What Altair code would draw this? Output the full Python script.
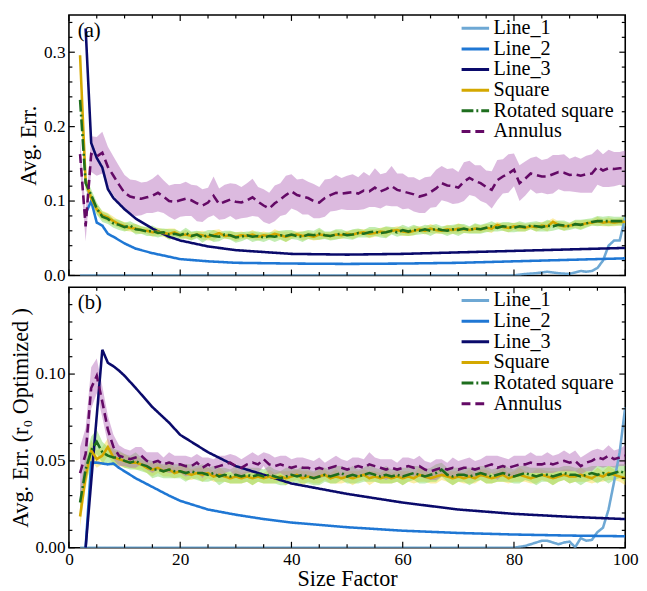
import altair as alt
import pandas as pd

SERIES = ["Line_1", "Line_2", "Line_3", "Square", "Rotated square", "Annulus"]
LINE_COLORS = ["#6ea8d4", "#1f77d4", "#0a0a6b", "#d4a800", "#1e6e1e", "#640a66"]
DASHES = [[1, 0], [1, 0], [1, 0], [1, 0], [12, 3, 2, 3], [9, 5]]
BAND_SERIES = ["Square", "Rotated square", "Annulus"]
BAND_COLORS = ["#f7d83a", "#7bd655", "#b266b8"]

X_NOISY = list(range(2, 101))

# axis tick positions
X_MAJOR = [0, 20, 40, 60, 80, 100]
X_MINOR = [5, 10, 15, 25, 30, 35, 45, 50, 55, 65, 70, 75, 85, 90, 95]
A_Y_MAJOR = [0.0, 0.1, 0.2, 0.3]
A_Y_MINOR = [0.02, 0.04, 0.06, 0.08, 0.12, 0.14, 0.16, 0.18, 0.22, 0.24, 0.26, 0.28, 0.32, 0.34]
B_Y_MAJOR = [0.0, 0.05, 0.10]
B_Y_MINOR = [0.01, 0.02, 0.03, 0.04, 0.06, 0.07, 0.08, 0.09, 0.11, 0.12, 0.13, 0.14]

# ---------------- panel (a) ----------------
A_L1_X = [2, 80, 82, 84, 86, 88, 90, 91, 92, 93, 94, 95, 96, 97, 98, 99, 100]
A_L1_Y = [0, 0, 0.002, 0.003, 0.005, 0.003, 0.002, 0.004, 0.006, 0.005, 0.006, 0.010, 0.020, 0.040, 0.047, 0.047, 0.078]
A_L2_X = [3, 4, 5, 6, 7, 8, 10, 12, 15, 20, 25, 30, 40, 50, 60, 70, 80, 90, 100]
A_L2_Y = [0.083, 0.100, 0.071, 0.067, 0.056, 0.052, 0.043, 0.036, 0.030, 0.022, 0.019, 0.017, 0.016, 0.0155, 0.016, 0.017, 0.019, 0.021, 0.023]
A_L3_X = [3, 4, 5, 6, 7, 8, 10, 12, 15, 18, 20, 25, 30, 40, 50, 60, 70, 80, 90, 100]
A_L3_Y = [0.332, 0.178, 0.158, 0.145, 0.116, 0.104, 0.089, 0.0765, 0.063, 0.052, 0.047, 0.039, 0.034, 0.029, 0.028, 0.029, 0.031, 0.033, 0.035, 0.037]

A_SQ = [0.296, 0.126, 0.104, 0.089, 0.081, 0.078, 0.073, 0.069, 0.066,
        0.064, 0.063, 0.061, 0.060, 0.058, 0.059, 0.057, 0.056, 0.058, 0.054,
        0.055, 0.053, 0.055, 0.054, 0.052, 0.054, 0.057, 0.053, 0.054, 0.052,
        0.054, 0.053, 0.055, 0.052, 0.054, 0.053, 0.056, 0.054, 0.052, 0.054,
        0.055, 0.053, 0.054, 0.052, 0.055, 0.054, 0.053, 0.055, 0.054, 0.056,
        0.055, 0.057, 0.058, 0.056, 0.057, 0.059, 0.058, 0.060, 0.061, 0.059,
        0.058, 0.060, 0.062, 0.060, 0.063, 0.061, 0.060, 0.062, 0.061, 0.063,
        0.062, 0.061, 0.063, 0.062, 0.064, 0.063, 0.068, 0.065, 0.064, 0.066,
        0.065, 0.064, 0.066, 0.065, 0.067, 0.066, 0.072, 0.068, 0.066, 0.067,
        0.069, 0.068, 0.070, 0.071, 0.073, 0.071, 0.072, 0.071, 0.072, 0.072]
A_SQ_HW = [0.012, 0.008, 0.007, 0.007, 0.006, 0.006, 0.006, 0.005, 0.006,
           0.005, 0.006, 0.005, 0.004, 0.006, 0.005, 0.005, 0.007, 0.005, 0.004,
           0.006, 0.005, 0.004, 0.006, 0.005, 0.007, 0.005, 0.004, 0.005, 0.006,
           0.005, 0.004, 0.006, 0.005, 0.005, 0.004, 0.006, 0.005, 0.007, 0.005,
           0.004, 0.006, 0.005, 0.005, 0.007, 0.004, 0.005, 0.006, 0.005, 0.004,
           0.006, 0.005, 0.004, 0.006, 0.005, 0.005, 0.007, 0.004, 0.005, 0.006,
           0.005, 0.006, 0.004, 0.005, 0.006, 0.005, 0.004, 0.006, 0.005, 0.007,
           0.005, 0.004, 0.006, 0.005, 0.005, 0.006, 0.004, 0.005, 0.006, 0.005,
           0.006, 0.005, 0.004, 0.006, 0.005, 0.007, 0.005, 0.005, 0.006, 0.004,
           0.005, 0.006, 0.005, 0.004, 0.006, 0.005, 0.006, 0.005, 0.005, 0.006]

A_RS = [0.236, 0.124, 0.108, 0.090, 0.079, 0.076, 0.070, 0.068, 0.065,
        0.067, 0.062, 0.061, 0.059, 0.060, 0.057, 0.058, 0.055, 0.056, 0.054,
        0.057, 0.053, 0.055, 0.051, 0.055, 0.053, 0.052, 0.055, 0.054, 0.051,
        0.052, 0.054, 0.052, 0.053, 0.051, 0.053, 0.052, 0.054, 0.053, 0.055,
        0.053, 0.052, 0.055, 0.054, 0.056, 0.054, 0.053, 0.055, 0.056, 0.054,
        0.055, 0.057, 0.056, 0.058, 0.059, 0.057, 0.058, 0.060, 0.058, 0.061,
        0.059, 0.061, 0.060, 0.062, 0.060, 0.063, 0.061, 0.060, 0.062, 0.061,
        0.063, 0.061, 0.063, 0.062, 0.064, 0.066, 0.064, 0.066, 0.065, 0.064,
        0.066, 0.065, 0.067, 0.066, 0.065, 0.067, 0.066, 0.068, 0.067, 0.066,
        0.069, 0.068, 0.070, 0.072, 0.073, 0.073, 0.073, 0.073, 0.073, 0.073]
A_RS_HW = [0.010, 0.009, 0.008, 0.008, 0.007, 0.007, 0.006, 0.007, 0.006,
           0.006, 0.007, 0.005, 0.006, 0.007, 0.006, 0.005, 0.007, 0.006, 0.005,
           0.007, 0.006, 0.005, 0.007, 0.006, 0.008, 0.006, 0.005, 0.006, 0.007,
           0.006, 0.005, 0.007, 0.006, 0.006, 0.005, 0.007, 0.006, 0.008, 0.006,
           0.005, 0.007, 0.006, 0.006, 0.008, 0.005, 0.006, 0.007, 0.006, 0.005,
           0.007, 0.006, 0.005, 0.007, 0.006, 0.006, 0.008, 0.005, 0.006, 0.007,
           0.006, 0.007, 0.005, 0.006, 0.007, 0.006, 0.005, 0.007, 0.006, 0.008,
           0.006, 0.005, 0.007, 0.006, 0.006, 0.007, 0.005, 0.006, 0.007, 0.006,
           0.007, 0.006, 0.005, 0.007, 0.006, 0.008, 0.006, 0.006, 0.007, 0.005,
           0.006, 0.007, 0.006, 0.005, 0.007, 0.006, 0.007, 0.006, 0.006, 0.007]

A_AN = [0.163, 0.066, 0.163, 0.160, 0.165, 0.146, 0.134, 0.122, 0.111,
        0.106, 0.104, 0.103, 0.105, 0.107, 0.111, 0.106, 0.100, 0.099, 0.101,
        0.103, 0.101, 0.097, 0.094, 0.098, 0.107, 0.096, 0.099, 0.102, 0.099,
        0.098, 0.101, 0.105, 0.099, 0.094, 0.090, 0.097, 0.102, 0.108, 0.113,
        0.108, 0.106, 0.104, 0.100, 0.098, 0.104, 0.108, 0.111, 0.110, 0.111,
        0.112, 0.110, 0.114, 0.113, 0.118, 0.113, 0.116, 0.120, 0.115, 0.113,
        0.111, 0.109, 0.106, 0.108, 0.112, 0.117, 0.124, 0.121, 0.120, 0.118,
        0.126, 0.131, 0.127, 0.124, 0.119, 0.115, 0.128, 0.133, 0.137, 0.142,
        0.124, 0.130, 0.137, 0.135, 0.133, 0.133, 0.136, 0.139, 0.138, 0.135,
        0.136, 0.134, 0.136, 0.137, 0.146, 0.141, 0.144, 0.143, 0.144, 0.144]
A_AN_HW = [0.020, 0.020, 0.024, 0.026, 0.028, 0.027, 0.026, 0.025, 0.024,
           0.023, 0.024, 0.022, 0.021, 0.023, 0.025, 0.022, 0.021, 0.024, 0.022,
           0.023, 0.021, 0.024, 0.022, 0.020, 0.026, 0.021, 0.023, 0.022, 0.024,
           0.021, 0.023, 0.025, 0.020, 0.022, 0.021, 0.024, 0.022, 0.026, 0.023,
           0.021, 0.024, 0.022, 0.023, 0.021, 0.025, 0.022, 0.024, 0.021, 0.023,
           0.024, 0.022, 0.025, 0.021, 0.026, 0.023, 0.022, 0.027, 0.022, 0.024,
           0.021, 0.023, 0.022, 0.024, 0.021, 0.025, 0.023, 0.022, 0.024, 0.021,
           0.026, 0.023, 0.021, 0.024, 0.022, 0.025, 0.027, 0.023, 0.026, 0.022,
           0.024, 0.023, 0.021, 0.025, 0.022, 0.024, 0.026, 0.023, 0.025, 0.022,
           0.024, 0.023, 0.025, 0.026, 0.024, 0.022, 0.025, 0.023, 0.022, 0.024]

# ---------------- panel (b) ----------------
B_L1_X = [2, 80, 81, 82, 83, 84, 85, 86, 87, 88, 89, 90, 91, 92, 93, 94, 95, 96, 97, 98, 99, 100]
B_L1_Y = [0, 0, 0.0005, 0.001, 0.002, 0.003, 0.004, 0.004, 0.003, 0.002, 0.003, 0.0035, 0.0003, 0.0055, 0.004, 0.0045, 0.009, 0.0115, 0.022, 0.038, 0.055, 0.081]
B_L2_X = [3, 4, 5, 6, 7, 8, 9, 10, 12, 15, 18, 20, 25, 30, 35, 40, 50, 60, 70, 80, 90, 100]
B_L2_Y = [0.0, 0.049, 0.049, 0.0485, 0.048, 0.0485, 0.046, 0.044, 0.040, 0.035, 0.030, 0.027, 0.022, 0.019, 0.0165, 0.0145, 0.0118, 0.0098, 0.0085, 0.0076, 0.0070, 0.0066]
B_L3_X = [3, 4, 5, 6, 7, 8, 9, 10, 12, 15, 18, 20, 25, 30, 35, 40, 45, 50, 60, 70, 80, 90, 100]
B_L3_Y = [0.0, 0.038, 0.076, 0.114, 0.1065, 0.1045, 0.102, 0.099, 0.092, 0.081, 0.072, 0.065, 0.055, 0.047, 0.042, 0.037, 0.034, 0.031, 0.026, 0.022, 0.0195, 0.0178, 0.0165]

B_SQ = [0.018, 0.041, 0.056, 0.051, 0.053, 0.058, 0.052, 0.051, 0.050,
        0.049, 0.049, 0.048, 0.046, 0.045, 0.046, 0.044, 0.045, 0.043, 0.044,
        0.043, 0.042, 0.043, 0.042, 0.043, 0.041, 0.042, 0.041, 0.040, 0.041,
        0.040, 0.041, 0.040, 0.041, 0.040, 0.041, 0.040, 0.041, 0.040, 0.041,
        0.042, 0.040, 0.041, 0.040, 0.041, 0.042, 0.040, 0.041, 0.040, 0.041,
        0.040, 0.041, 0.042, 0.040, 0.041, 0.040, 0.041, 0.040, 0.041, 0.040,
        0.041, 0.040, 0.042, 0.041, 0.040, 0.041, 0.042, 0.041, 0.040, 0.041,
        0.040, 0.041, 0.040, 0.042, 0.041, 0.040, 0.041, 0.042, 0.040, 0.041,
        0.042, 0.041, 0.040, 0.041, 0.042, 0.041, 0.040, 0.041, 0.042, 0.041,
        0.041, 0.042, 0.041, 0.040, 0.042, 0.041, 0.043, 0.042, 0.041, 0.040]
B_SQ_HW = [0.006, 0.007, 0.006, 0.005, 0.005, 0.005, 0.004, 0.004, 0.004,
           0.003, 0.004, 0.003, 0.003, 0.004, 0.003, 0.003, 0.004, 0.003, 0.003,
           0.004, 0.003, 0.003, 0.004, 0.003, 0.003, 0.004, 0.003, 0.003, 0.004,
           0.003, 0.003, 0.004, 0.003, 0.003, 0.004, 0.003, 0.003, 0.004, 0.003,
           0.003, 0.004, 0.003, 0.003, 0.004, 0.003, 0.003, 0.004, 0.003, 0.003,
           0.004, 0.003, 0.003, 0.004, 0.003, 0.003, 0.004, 0.003, 0.003, 0.004,
           0.003, 0.003, 0.004, 0.003, 0.003, 0.004, 0.003, 0.003, 0.004, 0.003,
           0.003, 0.004, 0.003, 0.003, 0.004, 0.003, 0.003, 0.004, 0.003, 0.003,
           0.004, 0.003, 0.003, 0.004, 0.003, 0.003, 0.004, 0.003, 0.003, 0.004,
           0.003, 0.004, 0.003, 0.003, 0.004, 0.003, 0.004, 0.003, 0.003, 0.004]

B_RS = [0.026, 0.045, 0.056, 0.061, 0.055, 0.053, 0.052, 0.052, 0.050,
        0.049, 0.050, 0.048, 0.047, 0.045, 0.045, 0.044, 0.045, 0.044, 0.044,
        0.043, 0.044, 0.043, 0.043, 0.042, 0.043, 0.041, 0.042, 0.041, 0.042,
        0.041, 0.042, 0.041, 0.042, 0.041, 0.042, 0.041, 0.040, 0.041, 0.042,
        0.041, 0.042, 0.041, 0.040, 0.041, 0.042, 0.041, 0.042, 0.043, 0.041,
        0.042, 0.041, 0.042, 0.043, 0.042, 0.041, 0.042, 0.041, 0.042, 0.041,
        0.042, 0.043, 0.042, 0.041, 0.042, 0.043, 0.045, 0.042, 0.041, 0.042,
        0.042, 0.041, 0.042, 0.043, 0.042, 0.041, 0.042, 0.043, 0.042, 0.041,
        0.042, 0.043, 0.042, 0.041, 0.042, 0.042, 0.041, 0.042, 0.043, 0.042,
        0.042, 0.041, 0.042, 0.043, 0.042, 0.043, 0.042, 0.043, 0.044, 0.043]
B_RS_HW = [0.008, 0.008, 0.008, 0.007, 0.006, 0.005, 0.005, 0.004, 0.004,
           0.004, 0.005, 0.004, 0.004, 0.005, 0.004, 0.004, 0.005, 0.004, 0.004,
           0.005, 0.004, 0.004, 0.005, 0.004, 0.004, 0.005, 0.004, 0.004, 0.005,
           0.004, 0.004, 0.005, 0.004, 0.004, 0.005, 0.004, 0.004, 0.005, 0.004,
           0.004, 0.005, 0.004, 0.004, 0.005, 0.004, 0.004, 0.005, 0.004, 0.004,
           0.005, 0.004, 0.004, 0.005, 0.004, 0.004, 0.005, 0.004, 0.004, 0.005,
           0.004, 0.004, 0.005, 0.004, 0.004, 0.005, 0.004, 0.004, 0.005, 0.004,
           0.004, 0.005, 0.004, 0.004, 0.005, 0.004, 0.004, 0.005, 0.004, 0.004,
           0.005, 0.004, 0.004, 0.005, 0.004, 0.004, 0.005, 0.004, 0.004, 0.005,
           0.004, 0.005, 0.004, 0.004, 0.005, 0.004, 0.005, 0.004, 0.004, 0.005]

B_AN = [0.043, 0.054, 0.092, 0.099, 0.084, 0.068, 0.058, 0.053, 0.052,
        0.051, 0.052, 0.053, 0.050, 0.049, 0.050, 0.048, 0.049, 0.048, 0.048,
        0.047, 0.047, 0.049, 0.046, 0.048, 0.046, 0.047, 0.048, 0.049, 0.047,
        0.046, 0.048, 0.049, 0.048, 0.051, 0.048, 0.047, 0.048, 0.047, 0.046,
        0.047, 0.046, 0.046, 0.045, 0.046, 0.045, 0.046, 0.047, 0.046, 0.045,
        0.046, 0.047, 0.046, 0.048, 0.047, 0.046, 0.045, 0.046, 0.045, 0.046,
        0.047, 0.046, 0.047, 0.045, 0.044, 0.045, 0.046, 0.045, 0.046, 0.045,
        0.046, 0.046, 0.045, 0.046, 0.047, 0.048, 0.046, 0.047, 0.046, 0.047,
        0.048, 0.048, 0.049, 0.048, 0.048, 0.049, 0.048, 0.049, 0.050, 0.049,
        0.050, 0.047, 0.049, 0.050, 0.052, 0.051, 0.053, 0.051, 0.052, 0.053]
B_AN_HW = [0.015, 0.015, 0.012, 0.010, 0.009, 0.008, 0.007, 0.006, 0.005,
           0.005, 0.006, 0.005, 0.005, 0.006, 0.005, 0.004, 0.006, 0.005, 0.005,
           0.006, 0.005, 0.005, 0.006, 0.004, 0.005, 0.006, 0.005, 0.005, 0.006,
           0.005, 0.005, 0.006, 0.005, 0.004, 0.006, 0.005, 0.005, 0.006, 0.005,
           0.005, 0.006, 0.005, 0.005, 0.006, 0.004, 0.005, 0.006, 0.005, 0.005,
           0.006, 0.005, 0.005, 0.007, 0.005, 0.005, 0.006, 0.005, 0.004, 0.006,
           0.005, 0.005, 0.006, 0.005, 0.005, 0.006, 0.005, 0.004, 0.006, 0.005,
           0.005, 0.006, 0.005, 0.005, 0.006, 0.005, 0.007, 0.005, 0.005, 0.006,
           0.005, 0.005, 0.006, 0.005, 0.005, 0.006, 0.005, 0.005, 0.006, 0.005,
           0.006, 0.005, 0.005, 0.006, 0.005, 0.005, 0.006, 0.005, 0.005, 0.006]

FONT = "Liberation Serif"
PLOT_W = 566
PLOT_H = 265
MAJOR_LEN = 6
MINOR_LEN = 3.5


def make_frames(smooth, noisy):
    rows = []
    for name, xs, ys in smooth:
        for x, y in zip(xs, ys):
            rows.append({"series": name, "x": x, "y": y})
    bands = []
    for name, ys, hws in noisy:
        for x, y, h in zip(X_NOISY, ys, hws):
            rows.append({"series": name, "x": x, "y": y})
            bands.append({"series": name, "x": x, "lo": y - h, "hi": y + h})
    return pd.DataFrame(rows), pd.DataFrame(bands)


def tick_layers(xscale, yscale, x_axis, y_axis, y_major, y_minor):
    out = []
    for vals, length in ((X_MAJOR, MAJOR_LEN), (X_MINOR, MINOR_LEN)):
        df = pd.DataFrame({"v": vals})
        base = alt.Chart(df).mark_rule(color="black", strokeWidth=1.2)
        xenc = alt.X("v:Q", scale=xscale, axis=x_axis)
        out.append(base.encode(x=xenc, y=alt.value(PLOT_H), y2=alt.value(PLOT_H - length)))
        out.append(base.encode(x=xenc, y=alt.value(0), y2=alt.value(length)))
    for vals, length in ((y_major, MAJOR_LEN), (y_minor, MINOR_LEN)):
        df = pd.DataFrame({"v": vals})
        base = alt.Chart(df).mark_rule(color="black", strokeWidth=1.2)
        yenc = alt.Y("v:Q", scale=yscale, axis=y_axis)
        out.append(base.encode(y=yenc, x=alt.value(0), x2=alt.value(length)))
        out.append(base.encode(y=yenc, x=alt.value(PLOT_W), x2=alt.value(PLOT_W - length)))
    return out


def panel(smooth, noisy, ymax, y_major, y_minor, yfmt, ytitle, show_x, tag):
    lines, bands = make_frames(smooth, noisy)
    xscale = alt.Scale(domain=[0, 100], nice=False, zero=False)
    yscale = alt.Scale(domain=[0, ymax], nice=False, zero=True)

    if show_x:
        x_axis = alt.Axis(orient="bottom", values=X_MAJOR, ticks=False, labelFlush=False,
                          labelFont=FONT, labelFontSize=17.5, labelPadding=3,
                          title="Size Factor", titleFont=FONT, titleFontSize=22.5,
                          titleFontWeight="normal", titlePadding=0,
                          domain=False, grid=False, format="d")
    else:
        x_axis = None
    y_axis = alt.Axis(orient="left", values=y_major, ticks=False, labelFlush=False,
                      labelFont=FONT, labelFontSize=17.5, format=yfmt, labelPadding=4,
                      title=ytitle, titleFont=FONT, titleFontSize=22.5,
                      titleFontWeight="normal", titlePadding=3,
                      domain=False, grid=False)

    leg = alt.Legend(title=None, orient="none", legendX=398, legendY=3,
                     labelFont=FONT, labelFontSize=20.5, labelColor="black",
                     symbolType="stroke", symbolStrokeWidth=3, symbolSize=784,
                     labelOffset=3, rowPadding=0, padding=0, clipHeight=21)

    band_layer = alt.Chart(bands).mark_area(opacity=0.45).encode(
        x=alt.X("x:Q", scale=xscale, axis=x_axis),
        y=alt.Y("lo:Q", scale=yscale, axis=y_axis),
        y2="hi:Q",
        fill=alt.Fill("series:N", scale=alt.Scale(domain=BAND_SERIES, range=BAND_COLORS), legend=None),
    )
    line_layer = alt.Chart(lines).mark_line(strokeWidth=2.6, clip=True).encode(
        x=alt.X("x:Q", scale=xscale, axis=x_axis),
        y=alt.Y("y:Q", scale=yscale, axis=y_axis),
        color=alt.Color("series:N", scale=alt.Scale(domain=SERIES, range=LINE_COLORS), legend=leg),
        strokeDash=alt.StrokeDash("series:N", scale=alt.Scale(domain=SERIES, range=DASHES), legend=leg),
        order=alt.Order("x:Q"),
    )
    tag_layer = alt.Chart(pd.DataFrame({"t": [tag]})).mark_text(
        align="left", baseline="alphabetic", font=FONT, fontSize=21, color="black"
    ).encode(text="t:N", x=alt.value(9), y=alt.value(22))

    layers = ([band_layer, line_layer]
              + tick_layers(xscale, yscale, x_axis, y_axis, y_major, y_minor)
              + [tag_layer])
    return alt.layer(*layers).properties(width=PLOT_W, height=PLOT_H)


top = panel(
    [("Line_1", A_L1_X, A_L1_Y), ("Line_2", A_L2_X, A_L2_Y), ("Line_3", A_L3_X, A_L3_Y)],
    [("Square", A_SQ, A_SQ_HW), ("Rotated square", A_RS, A_RS_HW), ("Annulus", A_AN, A_AN_HW)],
    0.35, A_Y_MAJOR, A_Y_MINOR, ".1f", "Avg. Err.", False, "(a)",
)
bottom = panel(
    [("Line_1", B_L1_X, B_L1_Y), ("Line_2", B_L2_X, B_L2_Y), ("Line_3", B_L3_X, B_L3_Y)],
    [("Square", B_SQ, B_SQ_HW), ("Rotated square", B_RS, B_RS_HW), ("Annulus", B_AN, B_AN_HW)],
    0.15, B_Y_MAJOR, B_Y_MINOR, ".2f", "Avg. Err. (r\u2080 Optimized )", True, "(b)",
)

chart = alt.vconcat(top, bottom, spacing=0).resolve_scale(
    color="independent", strokeDash="independent", fill="independent"
).properties(
    padding={"left": 0, "top": 0, "right": 0, "bottom": 0},
    background="white",
).configure_view(
    stroke="black", strokeWidth=1.6
).configure_axis(
    labelFont=FONT, titleFont=FONT, labelColor="black", titleColor="black",
    titleFontWeight="normal",
).configure_legend(
    labelFont=FONT, labelFontSize=20.5, labelColor="black"
)

chart.save("out.html", embed_options={"renderer": "svg", "actions": False})
